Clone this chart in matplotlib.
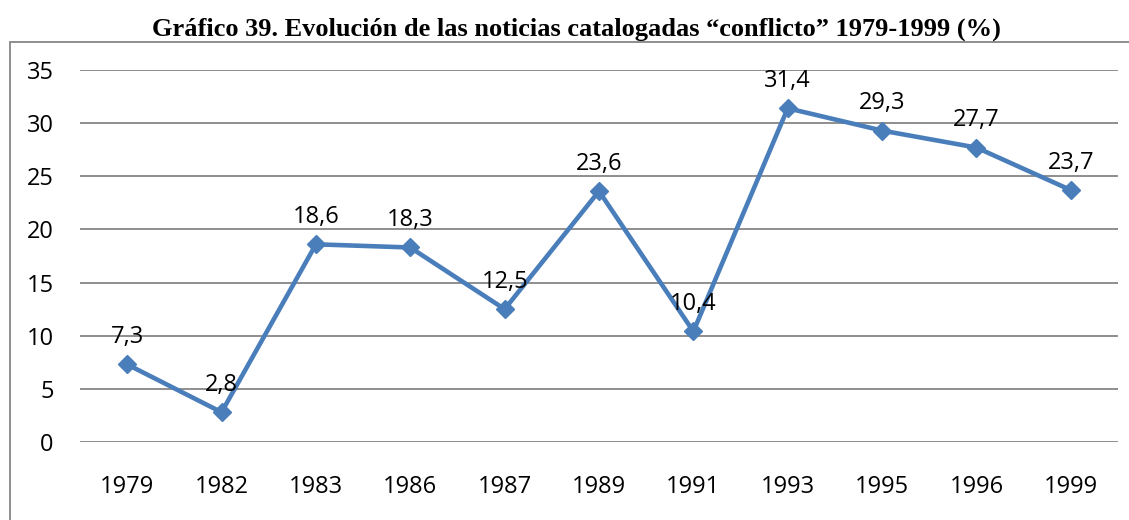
import matplotlib.pyplot as plt
from matplotlib.patches import Rectangle

years = ["1979", "1982", "1983", "1986", "1987", "1989", "1991", "1993", "1995", "1996", "1999"]
pct = [7.3, 2.8, 18.6, 18.3, 12.5, 23.6, 10.4, 31.4, 29.3, 27.7, 23.7]
yticks = [0, 5, 10, 15, 20, 25, 30, 35]

W, H = 1129, 520
fig = plt.figure(figsize=(W / 100, H / 100), dpi=100)
fig.patch.set_facecolor("white")

# outer chart frame
fig.add_artist(Rectangle((9.5 / W, -0.01), 1.1, (H - 42) / H + 0.01,
                         transform=fig.transFigure, fill=False,
                         edgecolor="#868686", linewidth=1.3))

fig.text(576 / W, 1 - 29 / H,
         "Gráfico 39. Evolución de las noticias catalogadas \u201cconflicto\u201d 1979-1999 (%)",
         ha="center", va="center", fontsize=19, fontweight="bold",
         family="Liberation Serif")

ax = fig.add_axes([80 / W, 1 - 442 / H, (1118 - 80) / W, (442 - 70) / H])
x = list(range(len(years)))
ax.plot(x, pct, color="#4A7EBB", linewidth=3.3, marker="D", markersize=9,
        clip_on=False, zorder=3)
for xi, v in zip(x, pct):
    ax.annotate(f"{v:.1f}".replace(".", ","), (xi, v), xytext=(0, 11),
                textcoords="offset points", ha="center", va="bottom",
                fontsize=17, family="Open Sans")

ax.set_xlim(-0.5, len(years) - 0.5)
ax.set_ylim(0, 35)
ax.set_yticks(yticks)
ax.set_yticklabels([str(t) for t in yticks])
ax.set_xticks(x)
ax.set_xticklabels(years)
ax.grid(axis="y", color="#868686", linewidth=1.3)
ax.set_axisbelow(True)
for s in ax.spines.values():
    s.set_visible(False)
ax.tick_params(length=0, labelsize=17)
ax.tick_params(axis="y", pad=19)
ax.tick_params(axis="x", pad=24)
for lab in ax.get_xticklabels() + ax.get_yticklabels():
    lab.set_family("Open Sans")

fig.savefig("out.png", dpi=100)
